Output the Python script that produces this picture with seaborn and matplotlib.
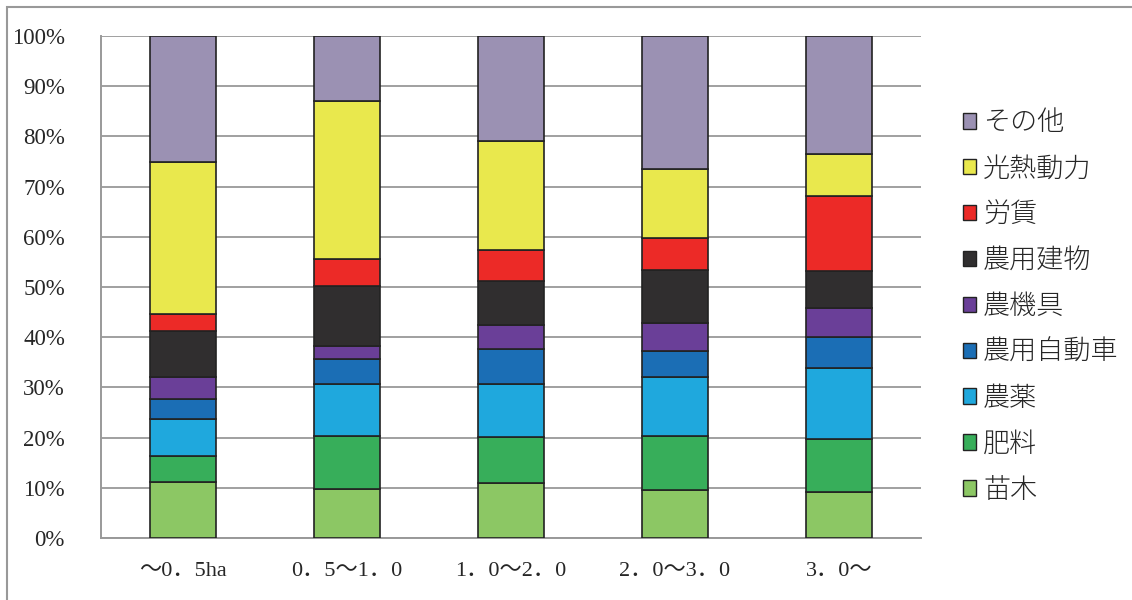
import numpy as np
import pandas as pd
import seaborn as sns
import matplotlib.pyplot as plt
from matplotlib.patches import Patch, Rectangle
from matplotlib.ticker import FixedLocator

# data (percent of total cost)
sizes = ["～0．5ha", "0．5～1．0", "1．0～2．0", "2．0～3．0", "3．0～"]
items = ["苗木", "肥料", "農薬", "農用自動車", "農機具", "農用建物", "労賃", "光熱動力", "その他"]
naegi = [11.2, 9.8, 11.0, 9.6, 9.2]
hiryo = [5.1, 10.6, 9.1, 10.8, 10.5]
noyaku = [7.4, 10.2, 10.5, 11.7, 14.1]
jidosha = [4.0, 5.1, 7.0, 5.2, 6.3]
kikigu = [4.4, 2.5, 4.9, 5.6, 5.7]
tatemono = [9.1, 12.0, 8.7, 10.5, 7.4]
chingin = [3.4, 5.4, 6.2, 6.3, 14.9]
konetsu = [30.4, 31.4, 21.6, 13.9, 8.4]
sonota = [25.0, 13.0, 21.0, 26.4, 23.5]
colors = ["#8cc764", "#37ae5a", "#1fa8dd", "#1b6eb5", "#6a3f98",
          "#302e2f", "#ec2a27", "#e9e84d", "#9b91b3"]

series = [naegi, hiryo, noyaku, jidosha, kikigu, tatemono, chingin, konetsu, sonota]

sns.set_style("white")
plt.rcParams['font.family'] = ['Liberation Serif', 'Noto Sans CJK JP', 'DejaVu Sans']

fig = plt.figure(figsize=(11.32, 6), dpi=100)
ax = fig.add_axes([101/1132, 1-538/600, 820/1132, 502/600])

bottom = np.zeros(len(sizes))
for vals, c in zip(series, colors):
    df = pd.DataFrame({"size": sizes, "value": vals})
    sns.barplot(data=df, x="size", y="value", color=c, width=0.4,
                bottom=bottom, edgecolor="#222222", linewidth=1.2,
                saturation=1, ax=ax, zorder=3)
    bottom = bottom + np.array(vals)

ax.set_xlim(-0.5, len(sizes) - 0.5)
ax.set_ylim(0, 100)
ax.set_yticks(np.arange(0, 101, 10))
ax.set_yticklabels([f"{v}%" for v in range(0, 101, 10)], fontsize=16.5)
ax.set_xticks(range(len(sizes)))
ax.set_xticklabels(sizes, fontsize=16)
ax.xaxis.set_minor_locator(FixedLocator(np.arange(-0.5, len(sizes), 1)))
ax.tick_params(axis="x", which="major", length=0, pad=17)
ax.tick_params(axis="x", which="minor", length=6, width=1.2, color="#999999", direction="out")
ax.tick_params(axis="y", length=6, width=1.2, color="#999999", direction="out", pad=20)
ax.set_xlabel("")
ax.set_ylabel("")
ax.grid(axis="y", color="#a0a0a0", linewidth=1.4, zorder=0)
ax.set_axisbelow(True)
for s in ["top", "right"]:
    ax.spines[s].set_visible(False)
ax.spines["left"].set_color("#999999")
ax.spines["left"].set_linewidth(1.4)
ax.spines["bottom"].set_color("#999999")
ax.spines["bottom"].set_linewidth(1.4)

handles = [Patch(facecolor=c, edgecolor="#222222", linewidth=1.0) for c in colors]
leg = fig.legend(handles[::-1], items[::-1], loc="center left",
                 bbox_to_anchor=(952/1132, 1 - 306/600), frameon=False,
                 prop={"family": ["Noto Sans CJK JP"], "size": 19.5, "weight": "light"},
                 handlelength=0.5, handleheight=0.5, handletextpad=0.25,
                 labelspacing=0.66, borderaxespad=0)

# outer frame of the chart
fig.patches.append(Rectangle((7/1132, -0.05), 1.2, 1.05 - 7/600, transform=fig.transFigure,
                             fill=False, edgecolor="#999999", linewidth=1.5))

fig.savefig("out.png", dpi=100)
